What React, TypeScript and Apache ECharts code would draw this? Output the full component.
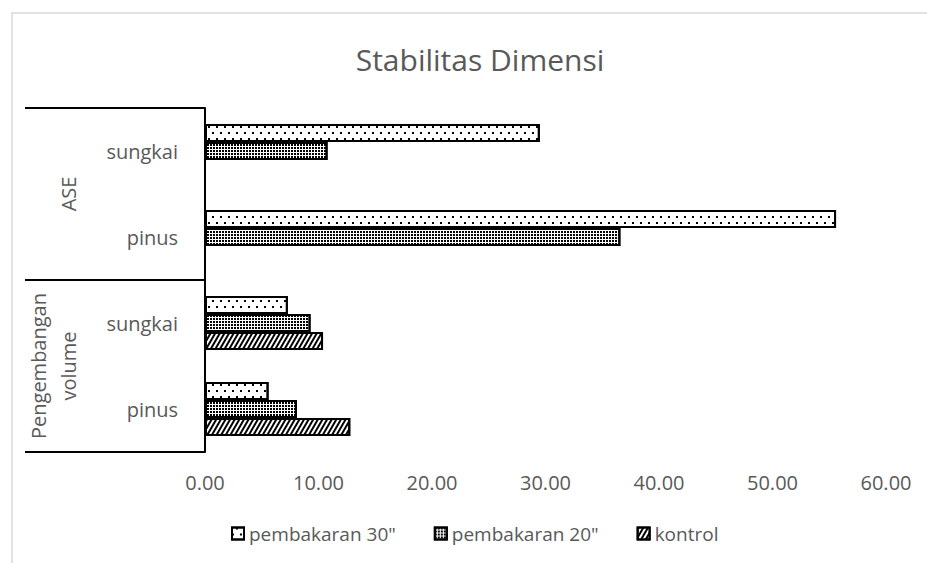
import React, { useEffect, useRef } from "react";
import * as echarts from "echarts";

// categories, bottom to top
const categories = ["pinus", "sungkai", "pinus", "sungkai"];
const groups = ["Pengembangan volume", "ASE"];
const seriesNames = ['pembakaran 30"', 'pembakaran 20"', "kontrol"];
const pembakaran30 = [5.6, 7.3, 55.6, 29.5];
const pembakaran20 = [8.1, 9.3, 36.6, 10.8];
const kontrol = [12.8, 10.4, null, null];
const xTicks = { min: 0, max: 60, interval: 10 };

const TEXT = "#595959";
const FONT = "Open Sans";

const decals = [
  {
    symbol: "rect",
    symbolSize: 1,
    color: "#000",
    backgroundColor: "#fff",
    dashArrayX: [[2, 6], [0, 4, 2, 2]],
    dashArrayY: [2, 4],
  },
  {
    symbol: "rect",
    symbolSize: 1,
    color: "#000",
    backgroundColor: "#fff",
    dashArrayX: [2, 1],
    dashArrayY: [2, 1],
  },
  {
    symbol: "rect",
    symbolSize: 1,
    color: "#000",
    backgroundColor: "#fff",
    dashArrayX: [1, 0],
    dashArrayY: [2, 2],
    rotation: -Math.PI / 3,
  },
];

export default function App() {
  const ref = useRef<HTMLDivElement>(null);
  useEffect(() => {
    if (!ref.current) return;
    const chart = echarts.init(ref.current, null, { renderer: "svg" });
    const dataSets = [pembakaran30, pembakaran20, kontrol];
    chart.setOption({
      animation: false,
      backgroundColor: "#fff",
      textStyle: { fontFamily: FONT },
      title: {
        text: "Stabilitas Dimensi",
        left: 475,
        top: 39,
        textAlign: "center",
        textStyle: { fontFamily: FONT, fontSize: 30, fontWeight: "normal", color: TEXT },
      },
      graphic: [
        {
          type: "rect",
          shape: { x: 12, y: 13, width: 940, height: 580 },
          style: { fill: "none", stroke: "#d9d9d9", lineWidth: 1.5 },
          silent: true,
          z: -1,
        },
      ],
      legend: {
        left: 226,
        top: 519,
        itemWidth: 12,
        itemHeight: 12,
        itemGap: 38,
        icon: "rect",
        data: seriesNames,
        textStyle: { fontFamily: FONT, fontSize: 19, color: TEXT },
      },
      grid: { left: 205, right: 41, top: 108, bottom: 111, containLabel: false },
      xAxis: {
        type: "value",
        min: xTicks.min,
        max: xTicks.max,
        interval: xTicks.interval,
        axisLine: { show: false },
        axisTick: { show: false },
        splitLine: { show: false },
        axisLabel: {
          margin: 20,
          color: TEXT,
          fontFamily: FONT,
          fontSize: 20,
          formatter: (v: number) => v.toFixed(2),
        },
      },
      yAxis: [
        {
          type: "category",
          data: categories,
          axisLine: { show: true, lineStyle: { color: "#000", width: 2 } },
          axisTick: { show: false },
          axisLabel: { interval: 0, margin: 27, color: TEXT, fontFamily: FONT, fontSize: 20 },
        },
        {
          type: "category",
          data: groups,
          position: "left",
          offset: 0,
          axisLine: { show: false },
          axisTick: { show: true, interval: 0, length: 180, lineStyle: { color: "#000", width: 2 } },
          axisLabel: {
            interval: 0,
            rotate: 90,
            margin: 122,
            color: TEXT,
            fontFamily: FONT,
            fontSize: 20,
            lineHeight: 30,
            hideOverlap: false,
            formatter: (v: string) => v.replace(" ", "\n"),
          },
        },
      ],
      series: seriesNames.map((name, i) => ({
        name,
        type: "bar",
        yAxisIndex: 0,
        data: dataSets[i],
        barWidth: 18,
        barGap: "0%",
        itemStyle: {
          color: "#fff",
          borderColor: "#000",
          borderWidth: 2,
          decal: decals[i],
        },
      })),
    });
    return () => chart.dispose();
  }, []);
  return (
    <div
      ref={ref}
      style={{ position: "absolute", left: 0, top: 0, width: 927, height: 563 }}
    />
  );
}
